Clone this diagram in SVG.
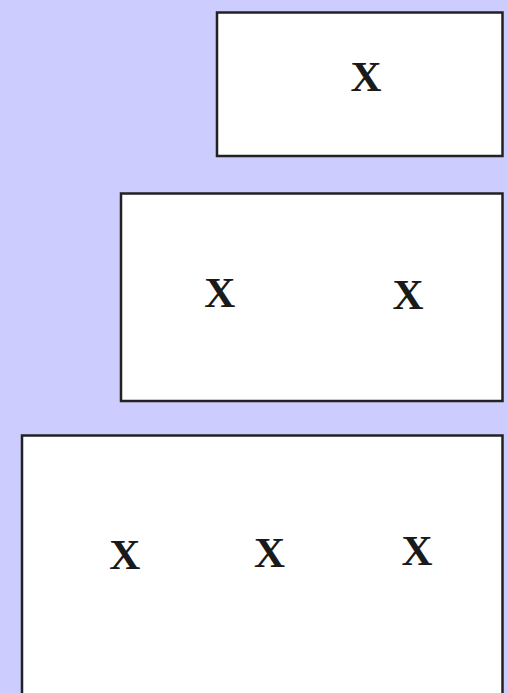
<svg xmlns="http://www.w3.org/2000/svg" width="508" height="693" viewBox="0 0 508 693">
<style>
.box{fill:#fff;stroke:#222;stroke-width:2.5}
.lbl{font-family:"Liberation Serif","Times New Roman",serif;font-size:43px;font-weight:bold;fill:#1a1a1a;text-anchor:middle}
</style>
<rect x="0" y="0" width="508" height="693" fill="#ccccff"/>
<g id="box1">
<rect class="box" x="217" y="12.5" width="285.5" height="143.5"/>
<text class="lbl" x="366" y="91">X</text>
</g>
<g id="box2">
<rect class="box" x="121" y="193.5" width="381.5" height="207.5"/>
<text class="lbl" x="219.7" y="307.3">X</text>
<text class="lbl" x="408" y="308.7">X</text>
</g>
<g id="box3">
<rect class="box" x="22" y="435.5" width="480.5" height="270"/>
<text class="lbl" x="124.7" y="569">X</text>
<text class="lbl" x="269.5" y="566.7">X</text>
<text class="lbl" x="417" y="565">X</text>
</g>
<g id="connectors"></g>
</svg>
